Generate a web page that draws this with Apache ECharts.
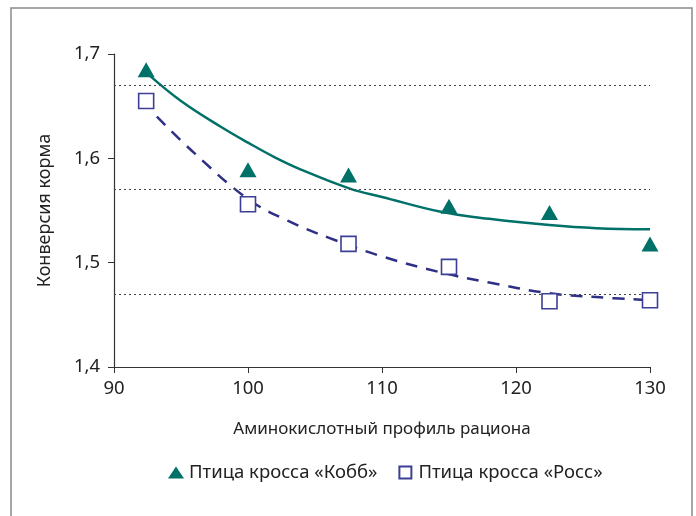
<!DOCTYPE html>
<html><head><meta charset="utf-8">
<script src="https://cdn.jsdelivr.net/npm/echarts@6/dist/echarts.min.js"></script>
<style>html,body{margin:0;padding:0;background:#fff}#c{width:696px;height:516px}</style>
</head><body><div id="c"></div>
<script>
const pointX = [92.4, 100, 107.5, 115, 122.5, 130];
const kobbY = [1.685, 1.589, 1.584, 1.554, 1.548, 1.518];
const rossY = [1.655, 1.556, 1.518, 1.496, 1.463, 1.464];
const kobbCurveX = [92.6, 95, 98, 100, 102, 104, 107.6, 110, 114.3, 118, 122.5, 126, 130];
const kobbCurveY = [1.680, 1.655, 1.630, 1.615, 1.601, 1.589, 1.571, 1.563, 1.549, 1.542, 1.536, 1.533, 1.532];
const rossCurveX = [93.2, 96, 100, 103, 106, 110, 114.6, 118, 122.3, 126, 130];
const rossCurveY = [1.640, 1.605, 1.561, 1.540, 1.524, 1.506, 1.490, 1.481, 1.471, 1.467, 1.464];
const refLines = [1.67, 1.57, 1.47];
const seriesNames = ['Птица кросса «Кобб»', 'Птица кросса «Росс»'];
const xTitle = 'Аминокислотный профиль рациона';
const yTitle = 'Конверсия корма';

const teal = '#007168', navy = '#2e2f85', sqBorder = '#3d3f96';
const font = 'Noto Sans';
const zip = (a, b) => a.map((v, i) => [v, b[i]]);
const chart = echarts.init(document.getElementById('c'));
chart.setOption({
  animation: false,
  textStyle: { fontFamily: font },
  grid: { left: 114, right: 46, top: 54, bottom: 149 },
  graphic: [{ type: 'rect', shape: { x: 11, y: 8, width: 681, height: 520 },
    style: { fill: 'none', stroke: '#8a8a8a', lineWidth: 1.5 }, silent: true }],
  legend: {
    top: 463, left: 168, padding: 0, itemGap: 21, itemWidth: 16, itemHeight: 12,
    textStyle: { fontSize: 18.5, color: '#222', fontFamily: font },
    data: [
      { name: seriesNames[0], icon: 'path://M8,0L16,12L0,12Z' },
      { name: seriesNames[1], icon: 'path://M0,0L11,0L11,11L0,11Z' }
    ]
  },
  xAxis: {
    type: 'value', min: 90, max: 130, interval: 10,
    name: xTitle, nameLocation: 'middle', nameGap: 54,
    nameTextStyle: { fontSize: 17, color: '#222' },
    axisLine: { lineStyle: { color: '#333', width: 1.2 } },
    axisTick: { show: true, length: 6, lineStyle: { color: '#333' } },
    axisLabel: { fontSize: 18.5, color: '#222', margin: 12 },
    splitLine: { show: false }
  },
  yAxis: {
    type: 'value', min: 1.4, max: 1.7, interval: 0.1,
    name: yTitle, nameLocation: 'middle', nameGap: 60, nameRotate: 90,
    nameTextStyle: { fontSize: 18, color: '#222' },
    axisLine: { show: true, lineStyle: { color: '#333', width: 1.2 } },
    axisTick: { show: true, length: 6, lineStyle: { color: '#333' } },
    axisLabel: { fontSize: 18.5, color: '#222', margin: 14,
      formatter: v => v.toFixed(1).replace('.', ',') },
    splitLine: { show: false }
  },
  series: [
    { type: 'line', data: zip(kobbCurveX, kobbCurveY), smooth: 0.4, showSymbol: false,
      lineStyle: { color: teal, width: 2.5 }, z: 2,
      markLine: { silent: true, symbol: ['none', 'none'], label: { show: false },
        lineStyle: { color: '#444', type: [2, 3], width: 1 },
        data: refLines.map(v => ({ yAxis: v })) } },
    { type: 'line', data: zip(rossCurveX, rossCurveY), smooth: 0.4, showSymbol: false,
      lineStyle: { color: navy, width: 2.5, type: [12, 9] }, z: 2 },
    { name: seriesNames[0], type: 'scatter', data: zip(pointX, kobbY), symbol: 'triangle',
      symbolSize: [17, 15], itemStyle: { color: teal, opacity: 1 }, z: 5 },
    { name: seriesNames[1], type: 'scatter', data: zip(pointX, rossY), symbol: 'rect',
      symbolSize: 15, itemStyle: { color: '#fff', borderColor: sqBorder, borderWidth: 1.6, opacity: 1 }, z: 5 }
  ]
});
</script></body></html>
